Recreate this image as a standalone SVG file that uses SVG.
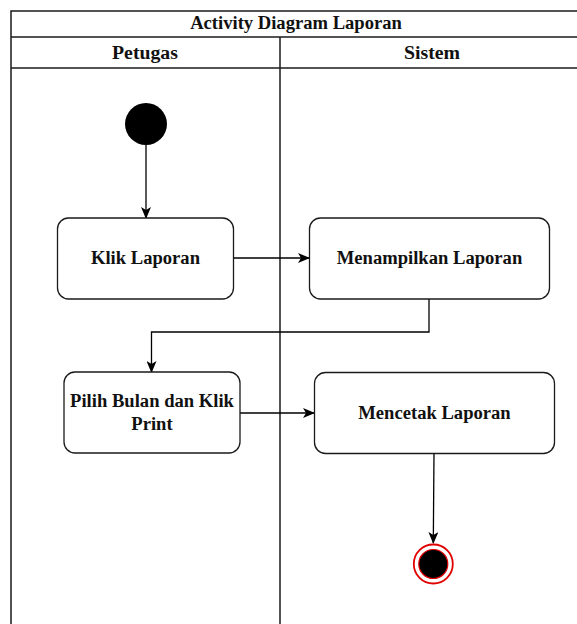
<svg xmlns="http://www.w3.org/2000/svg" width="577" height="624" viewBox="0 0 577 624">
  <style>
    .frame { fill: none; stroke: #1a1a1a; stroke-width: 1.5; }
    .act { fill: #ffffff; stroke: #1a1a1a; stroke-width: 1.3; }
    .lbl { font-family: "Liberation Serif", "Times New Roman", serif; font-weight: bold; fill: #111; text-anchor: middle; }
    .t18 { font-size: 18.6px; }
    .t20 { font-size: 19.8px; }
    .edge { fill: none; stroke: #000; stroke-width: 1.3; marker-end: url(#arrow); }
  </style>
  <defs>
    <marker id="arrow" viewBox="0 0 12 10" refX="11" refY="5" markerWidth="12" markerHeight="10" markerUnits="userSpaceOnUse" orient="auto">
      <path d="M0,0 L12,5 L0,10 L3,5 Z" fill="#000"/>
    </marker>
  </defs>
  <rect width="577" height="624" fill="#ffffff"/>

  <!-- swimlane frame -->
  <g id="pool">
    <path class="frame" d="M580,11 H11 V630"/>
    <line class="frame" x1="11" y1="37" x2="580" y2="37"/>
    <line class="frame" x1="11" y1="68" x2="580" y2="68"/>
    <line class="frame" x1="280" y1="37" x2="280" y2="630"/>
    <text class="lbl t18" x="296" y="29">Activity Diagram Laporan</text>
    <text class="lbl t20" x="145" y="59">Petugas</text>
    <text class="lbl t20" x="432" y="59">Sistem</text>
  </g>

  <!-- connectors -->
  <g id="edges">
    <line class="edge" x1="146" y1="145" x2="146" y2="218"/>
    <line class="edge" x1="233" y1="258" x2="309" y2="258"/>
    <path class="edge" d="M429,299 V332 H151.5 V372"/>
    <line class="edge" x1="240" y1="413" x2="314" y2="413"/>
    <line class="edge" x1="434" y1="453" x2="433.3" y2="543"/>
  </g>

  <g id="start">
    <circle cx="146" cy="124" r="21" fill="#000"/>
  </g>

  <g id="klik-laporan">
    <rect class="act" x="57.5" y="218" width="176" height="81" rx="11"/>
    <text class="lbl t18" x="145.5" y="263.5">Klik Laporan</text>
  </g>

  <g id="menampilkan-laporan">
    <rect class="act" x="309.5" y="218" width="240" height="81" rx="11"/>
    <text class="lbl t18" x="429.5" y="263.5">Menampilkan Laporan</text>
  </g>

  <g id="pilih-bulan">
    <rect class="act" x="64" y="372" width="176" height="81" rx="11"/>
    <text class="lbl t18" x="152" y="406.5">Pilih Bulan dan Klik</text>
    <text class="lbl t18" x="152" y="430">Print</text>
  </g>

  <g id="mencetak-laporan">
    <rect class="act" x="314.5" y="372.5" width="240" height="81" rx="11"/>
    <text class="lbl t18" x="434.5" y="418.5">Mencetak Laporan</text>
  </g>

  <g id="end">
    <circle cx="433.3" cy="564" r="19.5" fill="#ffffff" stroke="#e00000" stroke-width="1.8"/>
    <circle cx="433.3" cy="564" r="14.5" fill="#000" stroke="#e00000" stroke-width="1.2"/>
  </g>
</svg>
